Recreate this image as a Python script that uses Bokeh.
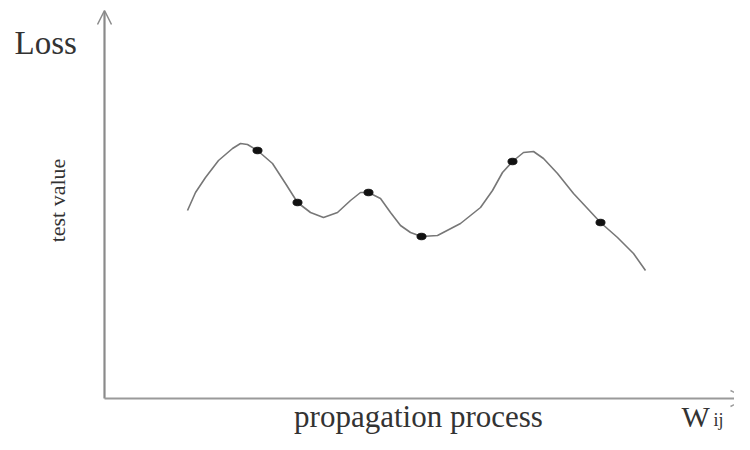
from bokeh.plotting import figure
from bokeh.models import Range1d, Label, Arrow, OpenHead
from bokeh.embed import file_html
from bokeh.resources import INLINE

# Curve (x: propagation, y: loss)
curve_x = [8.3, 9.1, 10.1, 11.4, 12.8, 13.6, 14.3, 15.3, 16.8, 18.1, 19.3, 20.6, 21.9, 23.3,
           24.6, 25.6, 26.4, 27.6, 28.6, 29.6, 30.6, 31.7, 33.3, 35.6, 37.6, 38.8, 39.8, 40.8,
           41.9, 42.9, 43.9, 45.3, 46.9, 48.3, 49.6, 51.3, 52.9, 54.1]
curve_y = [18.8, 20.6, 22.1, 23.8, 25.0, 25.5, 25.4, 24.8, 23.5, 21.5, 19.6, 18.6, 18.1, 18.6,
           19.8, 20.6, 20.6, 20.0, 18.6, 17.3, 16.6, 16.2, 16.3, 17.5, 19.1, 20.8, 22.6, 23.7,
           24.6, 24.7, 24.0, 22.5, 20.5, 19.0, 17.6, 16.1, 14.5, 12.8]

# Marked test values
dot_x = [15.3, 19.3, 26.4, 31.7, 40.8, 49.6]
dot_y = [24.8, 19.6, 20.6, 16.2, 23.7, 17.6]

y_label = "Loss"
y_sub_label = "test value"
x_label = "propagation process"
x_end_label = "W"
x_end_sub = "ij"

p = figure(width=734, height=434, output_backend="svg", toolbar_location=None,
           x_range=Range1d(-10.4, 63.0), y_range=Range1d(-3.6, 39.8),
           min_border=0, min_border_left=0, min_border_right=0,
           min_border_top=0, min_border_bottom=0)
p.axis.visible = False
p.grid.visible = False
p.outline_line_color = None
p.background_fill_color = "white"
p.border_fill_color = "white"

# axes with arrows
p.add_layout(Arrow(end=OpenHead(size=14, line_color="#8a8a8a", line_width=1.5),
                   x_start=0, y_start=0, x_end=0, y_end=38.8,
                   line_color="#8a8a8a", line_width=2.2))
p.add_layout(Arrow(end=OpenHead(size=16, line_color="#9a9a9a", line_width=1.5),
                   x_start=0, y_start=0, x_end=64.2, y_end=0,
                   line_color="#9a9a9a", line_width=2))

p.line(curve_x, curve_y, line_color="#777777", line_width=1.6)
p.ellipse(dot_x, dot_y, width=9, height=6.5, width_units="screen", height_units="screen",
          fill_color="#111111", line_color="#111111")

font = "Liberation Serif"
p.add_layout(Label(x=-9.0, y=35.6, text=y_label, text_font=font, text_font_size="33px",
                   text_color="#333333", text_baseline="alphabetic"))
p.add_layout(Label(x=-4.7, y=19.8, text=y_sub_label, text_font=font, text_font_size="22px",
                   text_color="#333333", angle=1.5708, text_align="center",
                   text_baseline="middle"))
p.add_layout(Label(x=31.4, y=-1.8, text=x_label, text_font=font, text_font_size="31px",
                   text_color="#333333", text_align="center", text_baseline="alphabetic"))
p.add_layout(Label(x=57.7, y=-1.8, text=x_end_label, text_font=font, text_font_size="30px",
                   text_color="#333333", text_baseline="alphabetic"))
p.add_layout(Label(x=60.9, y=-2.1, text=x_end_sub, text_font=font, text_font_size="18px",
                   text_color="#333333", text_baseline="alphabetic"))

open("out.html", "w").write(file_html(p, INLINE))
